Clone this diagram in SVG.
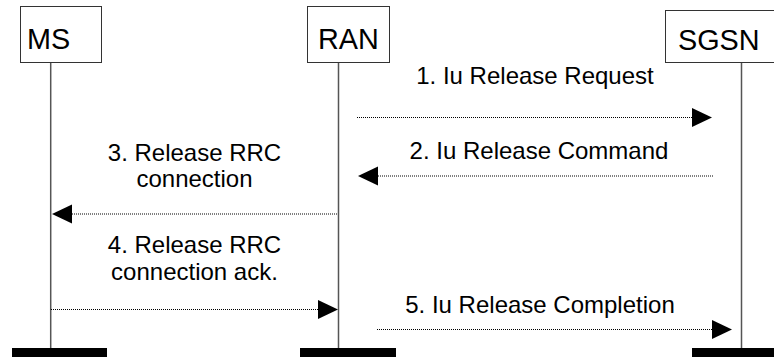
<svg xmlns="http://www.w3.org/2000/svg" width="774" height="357" viewBox="0 0 774 357">
  <defs>
    <style>
      .box { fill: #fff; stroke: #333; stroke-width: 1; }
      .life { stroke: #555; stroke-width: 1.5; fill: none; }
      .bar { fill: #000; }
      .name { font-family: "Liberation Sans", Arial, sans-serif; font-size: 28.8px; fill: #000; }
      .lbl { font-family: "Liberation Sans", Arial, sans-serif; font-size: 24px; fill: #000; text-anchor: middle; }
      .msg { stroke: #000; stroke-width: 1; stroke-dasharray: 1 1; fill: none; }
      .head { fill: #000; }
    </style>
  </defs>
  <rect width="774" height="357" fill="#fff"/>

  <g id="ms">
    <rect class="box" x="20.5" y="6.5" width="81" height="56"/>
    <text class="name" x="27" y="49">MS</text>
    <line class="life" x1="50.7" y1="63" x2="50.7" y2="348"/>
    <rect class="bar" x="12" y="348" width="95" height="9"/>
  </g>

  <g id="ran">
    <rect class="box" x="307.5" y="6.5" width="82" height="56"/>
    <text class="name" x="318" y="49">RAN</text>
    <line class="life" x1="338.5" y1="63" x2="338.5" y2="348"/>
    <rect class="bar" x="300" y="348" width="96" height="9"/>
  </g>

  <g id="sgsn">
    <rect class="box" x="665.5" y="10.5" width="120" height="52"/>
    <text class="name" x="678" y="50">SGSN</text>
    <line class="life" x1="741.5" y1="63" x2="741.5" y2="348"/>
    <rect class="bar" x="692" y="348" width="90" height="9"/>
  </g>

  <g id="connectors">
    <!-- 1. RAN to SGSN -->
    <line class="msg" x1="357" y1="117.5" x2="692" y2="117.5"/>
    <polygon class="head" points="692,108 712,117.5 692,127"/>
    <text class="lbl" x="535" y="84">1. Iu Release Request</text>

    <!-- 2. SGSN to RAN -->
    <line class="msg" x1="378" y1="176" x2="713" y2="176"/>
    <polygon class="head" points="378,166.5 358,176 378,185.5"/>
    <text class="lbl" x="539" y="159">2. Iu Release Command</text>

    <!-- 3. RAN to MS -->
    <line class="msg" x1="72" y1="214" x2="338" y2="214"/>
    <polygon class="head" points="72,204.5 52,214 72,223.5"/>
    <text class="lbl" x="194.5" y="161">3. Release RRC</text>
    <text class="lbl" x="194.5" y="187">connection</text>

    <!-- 4. MS to RAN -->
    <line class="msg" x1="51" y1="309.5" x2="318" y2="309.5"/>
    <polygon class="head" points="318,300 338,309.5 318,319"/>
    <text class="lbl" x="194.5" y="253">4. Release RRC</text>
    <text class="lbl" x="194.5" y="280">connection ack.</text>

    <!-- 5. RAN to SGSN -->
    <line class="msg" x1="377" y1="329.5" x2="712" y2="329.5"/>
    <polygon class="head" points="712,320 732,329.5 712,339"/>
    <text class="lbl" x="540" y="313">5. Iu Release Completion</text>
  </g>
</svg>
